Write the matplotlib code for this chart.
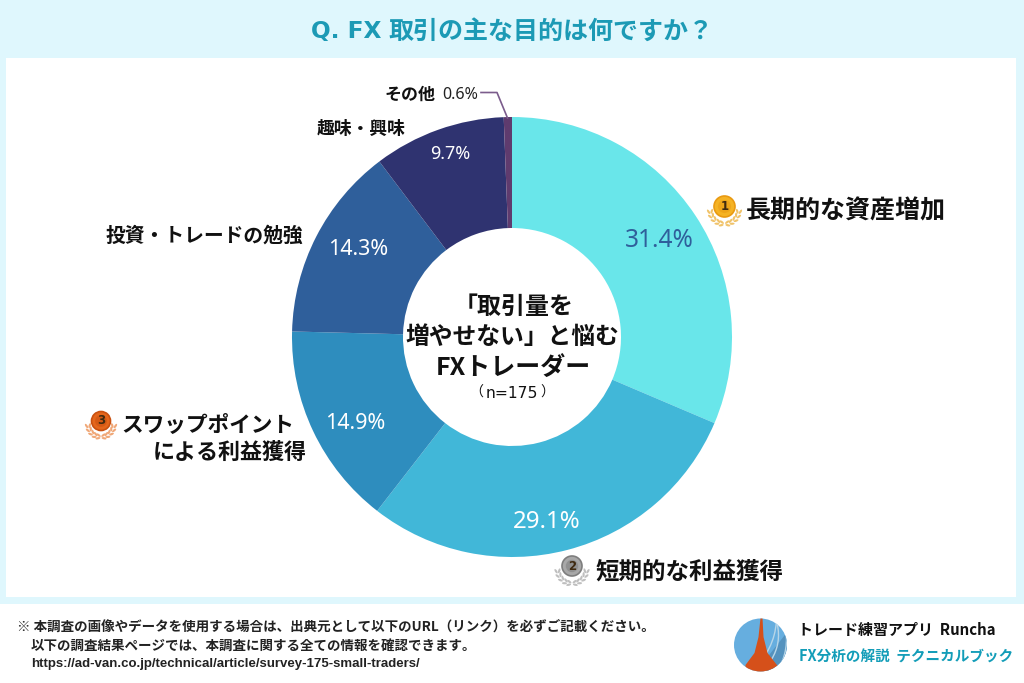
import matplotlib
matplotlib.use("Agg")
import matplotlib.pyplot as plt
import numpy as np
from matplotlib.patches import Rectangle, Circle, Ellipse, Polygon, Arc

plt.rcParams['font.family'] = ['Noto Sans CJK JP', 'DejaVu Sans']

W, H = 1024, 683
categories = ['長期的な資産増加', '短期的な利益獲得', 'スワップポイント\nによる利益獲得', '投資・トレードの勉強', '趣味・興味', 'その他']
values = [31.4, 29.1, 14.9, 14.3, 9.7, 0.6]
value_labels = ['31.4%', '29.1%', '14.9%', '14.3%', '9.7%']
colors = ['#69E6EA', '#41B7D8', '#2E8DBE', '#2F5F9B', '#2F3370', '#5F3B6E']
label_colors = ['#2F5F9B', 'white', 'white', 'white', 'white']
center_lines = ['「取引量を', '増やせない」と悩む', 'FXトレーダー']
notes = ['※ 本調査の画像やデータを使用する場合は、出典元として以下のURL（リンク）を必ずご記載ください。',
         '以下の調査結果ページでは、本調査に関する全ての情報を確認できます。',
         'https://ad-van.co.jp/technical/article/survey-175-small-traders/']

fig = plt.figure(figsize=(W / 100, H / 100), dpi=100, facecolor='#DFF7FD')
bg = fig.add_axes([0, 0, 1, 1])
bg.set_xlim(0, W)
bg.set_ylim(H, 0)
bg.axis('off')
bg.add_patch(Rectangle((6, 58), 1010, 539, fc='white', ec='none'))
bg.add_patch(Rectangle((0, 604), W, 79, fc='white', ec='none'))

cx, cy, R = 512, 337, 220
pax = fig.add_axes([(cx - R) / W, 1 - (cy + R) / H, 2 * R / W, 2 * R / H])
pax.pie(values, colors=colors, startangle=90, counterclock=False, radius=1,
        wedgeprops=dict(width=1 - 109 / 220, linewidth=0))
pax.set_xlim(-1, 1)
pax.set_ylim(-1, 1)

top = fig.add_axes([0, 0, 1, 1], facecolor='none')
top.set_xlim(0, W)
top.set_ylim(H, 0)
top.axis('off')

def T(x, y, s, size, color='#111111', weight='bold', ha='left', va='center', **kw):
    return top.text(x, y + 0.1 * size, s, fontsize=size * 0.72, color=color, fontweight=weight,
                    ha=ha, va=va, **kw)

# title
TITLE_C = '#1C9AB5'
T(311, 29, 'Q. FX', 23.3, color=TITLE_C, family='DejaVu Sans')
T(713, 29, '取引の主な目的は何ですか？', 25, color=TITLE_C, ha='right', weight='bold')

# value labels
pos = [(659, 238), (547, 520), (355, 421), (358, 247), (450, 152)]
sizes = [24.5, 24, 21.5, 21.5, 18]
for (x, y), s, c, z in zip(pos, value_labels, label_colors, sizes):
    T(x, y, s, z, color=c, weight='medium', ha='center', family='Noto Sans')

# category labels
T(746, 209, categories[0], 25)
T(596, 569, categories[1], 23.5)
T(121, 423, 'スワップポイント', 21.7)
T(307, 451, 'による利益獲得', 22, ha='right')
T(303, 234, categories[3], 19.8, ha='right')
T(405, 127, categories[4], 17.8, ha='right')
T(435, 93, categories[5], 17, ha='right')
T(442, 93, '0.6%', 16, weight='medium', color='#222222', family='Noto Sans')
top.plot([481, 497, 507.5], [92.5, 92.5, 118], color='#7B5C8C', lw=1.2)

# centre text
T(514, 305, center_lines[0], 24, ha='center')
T(512, 335, center_lines[1], 23.8, ha='center')
T(513, 365, center_lines[2], 25, ha='center')
T(511.5, 392, 'n=175', 15.5, weight='normal', ha='center', family='DejaVu Sans')
T(476, 391, '（', 14, weight='normal', ha='center')
T(547, 391, '）', 14, weight='normal', ha='center')

# medals
def medal(x, y, n, face, rim, wreath, r=10.5, wr=14.5):
    for sgn in (-1, 1):
        for a in np.radians([8, 26, 44, 62, 78]):
            for off in (-1.6, 1.6):
                rr = wr + off
                px = x + sgn * rr * np.cos(a)
                py = y + 3 + rr * np.sin(a)
                ang = sgn * (np.degrees(a) + 90 + (25 if off > 0 else -25))
                top.add_patch(Ellipse((px, py), 5, 2.2, angle=ang, fc=wreath, ec='none'))
    top.add_patch(Circle((x, y), r, fc=face, ec=rim, lw=1.2))
    top.add_patch(Circle((x, y), r * 0.62, fc=rim, ec='none', alpha=0.55))
    top.text(x, y, n, fontsize=8.5, color='#3F2A10', ha='center', va='center',
             fontweight='bold', family='DejaVu Sans')

medal(724.5, 206.5, '1', '#F5B324', '#E99A12', '#F0C36A')
medal(572, 566, '2', '#A8A8A8', '#7E7E7E', '#BFBFBF', r=10)
medal(101, 421, '3', '#E4661B', '#C9500F', '#F0A878', r=9.5, wr=13)

# notes
T(17, 626, notes[0], 13.5, color='#222222')
T(31, 645, notes[1], 13.5, color='#222222')
T(31, 663, notes[2], 13.3, color='#222222', family='Liberation Sans')

# logo
lx, ly, lr = 760.5, 645, 26.5
clip = Circle((lx, ly), lr, transform=top.transData)
disc = Circle((lx, ly), lr, fc='#66AEDF', ec='none')
top.add_patch(disc)
dark = Polygon([(lx + 27, ly - 14), (lx + 27, ly + 27), (lx + 5, ly + 27), (lx + 5, ly + 14)],
               fc='#5492BE', ec='none')
top.add_patch(dark)
dark.set_clip_path(clip)
for ar, ac in [(60, (lx - 34, ly - 6)), (46, (lx - 28, ly - 10)), (70, (lx - 54, ly - 28))]:
    a = Arc(ac, 2 * ar, 2 * ar, theta1=-30, theta2=60, color='#B7D6E8', lw=1.0)
    top.add_patch(a)
    a.set_clip_path(clip)
tower = Polygon([(lx, ly - 27), (lx + 2, ly - 27), (lx + 3, ly - 8), (lx + 7, ly + 8), (lx + 18, ly + 22),
                 (lx + 18, ly + 28), (lx - 15, ly + 28), (lx - 15, ly + 20), (lx - 6, ly + 8), (lx - 2, ly - 8)],
                fc='#D5501A', ec='none')
top.add_patch(tower)
tower.set_clip_path(clip)
T(798, 629, 'トレード練習アプリ  Runcha', 15, color='#111111')
T(799, 655, 'FX分析の解説  テクニカルブック', 14.6, color='#139DB8')

fig.savefig('out.png', dpi=100, facecolor=fig.get_facecolor())
